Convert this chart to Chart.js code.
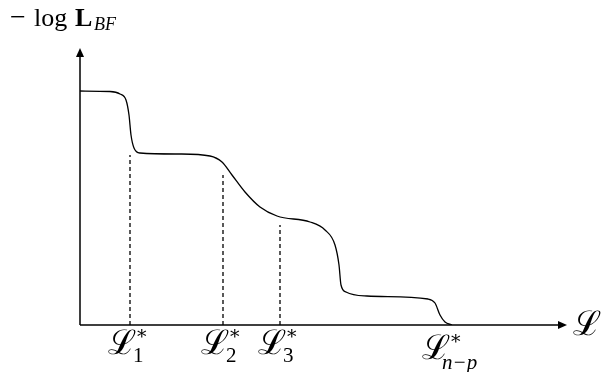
<!DOCTYPE html>
<html lang="en">
<head>
<meta charset="UTF-8">
<title>Loss curve plateaus</title>
<script src="https://cdn.jsdelivr.net/npm/chart.js"></script>
<style>
  html, body { margin: 0; padding: 0; background: #fff; }
  #wrap { width: 603px; height: 372px; }
</style>
</head>
<body>
<div id="wrap"><canvas id="chart"></canvas></div>
<script>
// curve, in axis units (x to the right of the origin, y above the x axis)
const curveX = [0, 30, 40, 46, 49, 51, 54, 60, 100, 130, 142, 152, 165, 180, 197, 230, 245, 255, 259, 261, 266, 287, 348, 355, 360, 365, 372];
const curveY = [234, 233.5, 231, 225, 210, 190, 177, 172, 171, 169, 163, 150, 133, 118, 109, 103, 95, 80, 60, 40, 33, 29, 26, 22, 10, 3, 0];

// dashed markers
const markX = [50, 143, 200];
const markTop = [170, 150, 100];
const markSub = ['1', '2', '3'];

// last marker (no dashed line)
const lastX = 370;
const lastSub = 'n\u2212p';

const xMax = 487, yMax = 277;

const datasets = [{
  data: curveX.map((x, i) => ({ x: x, y: curveY[i] })),
  borderColor: '#000',
  borderWidth: 1.3,
  pointRadius: 0,
  cubicInterpolationMode: 'monotone',
  fill: false
}];
markX.forEach((x, i) => {
  datasets.push({
    data: [{ x: x, y: 0 }, { x: x, y: markTop[i] }],
    borderColor: '#000',
    borderWidth: 1.3,
    borderDash: [4, 3],
    pointRadius: 0,
    fill: false
  });
});

const SCRIPT_L = '\u2112';

function drawLabel(ctx, cx, top, sub) {
  ctx.fillStyle = '#000';
  ctx.textBaseline = 'alphabetic';
  ctx.textAlign = 'left';
  ctx.font = '34px "DejaVu Serif"';
  const w = ctx.measureText(SCRIPT_L).width;
  const left = cx - w / 2 - 8;
  const base = top + 24;
  ctx.fillText(SCRIPT_L, left, base);
  ctx.font = '19px "DejaVu Serif"';
  ctx.fillText('*', left + w + 1, top + 13);
  if (sub.length > 1) {
    ctx.font = 'italic 21px "Liberation Serif"';
    ctx.fillText(sub, left + w - 8, base + 10);
  } else {
    ctx.font = '21px "Liberation Serif"';
    ctx.fillText(sub, left + w - 3, base + 8);
  }
}

const axesPlugin = {
  id: 'axesPlugin',
  afterDatasetsDraw(chart) {
    const ctx = chart.ctx;
    const xs = chart.scales.x, ys = chart.scales.y;
    const x0 = xs.getPixelForValue(0), y0 = ys.getPixelForValue(0);
    const xEnd = xs.getPixelForValue(xMax), yEnd = ys.getPixelForValue(yMax);
    ctx.save();
    ctx.strokeStyle = '#000';
    ctx.fillStyle = '#000';
    ctx.lineWidth = 1.5;
    ctx.beginPath();
    ctx.moveTo(x0, y0); ctx.lineTo(xEnd - 6, y0);
    ctx.moveTo(x0, y0); ctx.lineTo(x0, yEnd + 6);
    ctx.stroke();
    // arrow heads
    ctx.beginPath();
    ctx.moveTo(xEnd, y0); ctx.lineTo(xEnd - 9, y0 - 4); ctx.lineTo(xEnd - 9, y0 + 4); ctx.closePath();
    ctx.fill();
    ctx.beginPath();
    ctx.moveTo(x0, yEnd); ctx.lineTo(x0 - 4, yEnd + 9); ctx.lineTo(x0 + 4, yEnd + 9); ctx.closePath();
    ctx.fill();

    // x axis name
    ctx.font = '34px "DejaVu Serif"';
    ctx.textBaseline = 'middle';
    ctx.fillText(SCRIPT_L, xEnd + 6, y0 + 1);

    // y axis name: -log L_BF
    ctx.textBaseline = 'alphabetic';
    ctx.font = '28px "Liberation Serif"';
    ctx.fillText('\u2212', 10, 26);
    ctx.font = '26px "Liberation Serif"';
    ctx.fillText('log', 34, 26);
    ctx.font = 'bold 26px "Liberation Serif"';
    ctx.fillText('L', 75, 26);
    ctx.font = 'italic 18px "Liberation Serif"';
    ctx.fillText('BF', 94, 30);

    // marker labels
    markX.forEach((x, i) => drawLabel(ctx, xs.getPixelForValue(x), y0 + 5, markSub[i]));
    drawLabel(ctx, xs.getPixelForValue(lastX) - 6, y0 + 10, lastSub);
    ctx.restore();
  }
};

new Chart(document.getElementById('chart'), {
  type: 'line',
  data: { datasets: datasets },
  options: {
    responsive: true,
    maintainAspectRatio: false,
    animation: false,
    layout: { padding: { left: 80, top: 48, right: 36, bottom: 47 } },
    plugins: { legend: { display: false }, tooltip: { enabled: false } },
    scales: {
      x: { type: 'linear', min: 0, max: xMax, display: false },
      y: { type: 'linear', min: 0, max: yMax, display: false }
    }
  },
  plugins: [axesPlugin]
});
</script>
</body>
</html>
